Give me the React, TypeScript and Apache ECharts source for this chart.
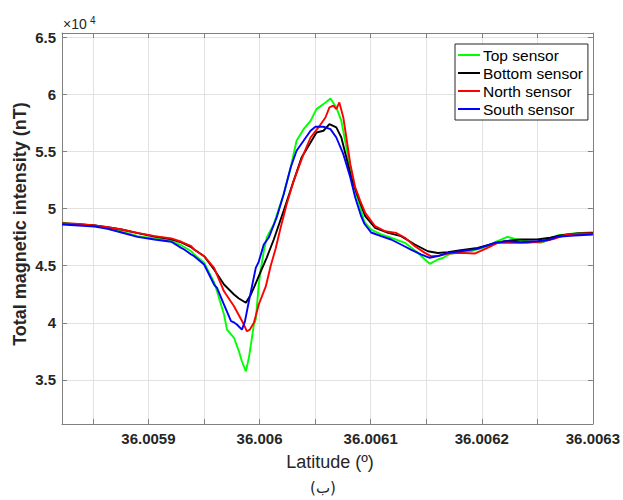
import React, { useEffect, useRef } from 'react';
import * as echarts from 'echarts';

const xTickValues = [36.00585, 36.0059, 36.00595, 36.006, 36.00605, 36.0061, 36.00615, 36.0062, 36.00625, 36.0063];
const xLabelValues = [36.0059, 36.006, 36.0061, 36.0062, 36.0063];
const yTickValues = [35000, 40000, 45000, 50000, 55000, 60000, 65000];

const seriesNames = ['Top sensor', 'Bottom sensor', 'North sensor', 'South sensor'];
const seriesColors = ['#00ff00', '#000000', '#ff0000', '#0000ff'];

const topLat = [36.0058222, 36.0058338, 36.0058517, 36.0058633, 36.0058758, 36.0058902, 36.0059054, 36.0059206, 36.0059295, 36.0059385, 36.0059412, 36.0059501, 36.0059591, 36.0059617, 36.005968, 36.0059707, 36.005977, 36.0059814, 36.0059841, 36.0059877, 36.0059904, 36.0059949, 36.0059966, 36.0059993, 36.0060011, 36.0060038, 36.0060065, 36.0060128, 36.0060217, 36.006028, 36.0060333, 36.0060396, 36.0060459, 36.0060512, 36.0060575, 36.0060638, 36.0060691, 36.0060736, 36.0060781, 36.0060825, 36.006087, 36.0060906, 36.0060942, 36.0061004, 36.0061094, 36.0061183, 36.0061309, 36.0061425, 36.0061488, 36.0061532, 36.0061604, 36.0061649, 36.006172, 36.0061899, 36.0062051, 36.0062141, 36.006223, 36.0062293, 36.0062409, 36.0062526, 36.0062615, 36.0062678, 36.006283, 36.0063];
const topVal = [48780, 48600, 48510, 48250, 47990, 47580, 47380, 47140, 46790, 46260, 45980, 45250, 43530, 42760, 40730, 39410, 38690, 37510, 36640, 35760, 36940, 39850, 40290, 43350, 44660, 46260, 47460, 48630, 51250, 53590, 55920, 56940, 57670, 58690, 59130, 59630, 58840, 57670, 55340, 53000, 51250, 50090, 48860, 48160, 47730, 47440, 47000, 46120, 45540, 45160, 45540, 45670, 46060, 46260, 46700, 47140, 47520, 47350, 47140, 47000, 47290, 47640, 47810, 47930];

const bottomLat = [36.0058222, 36.0058338, 36.0058517, 36.0058633, 36.0058758, 36.0058902, 36.0059054, 36.0059206, 36.0059295, 36.0059385, 36.0059412, 36.0059501, 36.0059591, 36.005968, 36.005977, 36.0059814, 36.0059877, 36.0059922, 36.0059957, 36.0060011, 36.0060065, 36.0060128, 36.0060217, 36.0060307, 36.0060378, 36.0060459, 36.0060512, 36.0060575, 36.0060629, 36.0060691, 36.0060736, 36.0060781, 36.0060825, 36.0060888, 36.0060951, 36.006104, 36.0061157, 36.0061273, 36.0061398, 36.0061515, 36.0061604, 36.0061694, 36.006181, 36.0061962, 36.0062078, 36.0062204, 36.0062347, 36.0062499, 36.0062615, 36.0062705, 36.0062857, 36.0063];
const bottomVal = [48690, 48640, 48510, 48360, 48160, 47840, 47550, 47310, 47030, 46610, 46410, 45830, 44660, 43350, 42480, 42130, 41750, 42480, 43260, 44490, 45710, 47290, 49800, 52420, 54460, 55780, 56650, 56800, 57380, 57090, 56210, 54460, 52710, 50960, 49330, 48310, 47870, 47580, 46850, 46260, 46110, 46180, 46350, 46560, 46850, 47140, 47290, 47290, 47440, 47640, 47810, 47870];

const northLat = [36.0058222, 36.0058338, 36.0058517, 36.0058633, 36.0058758, 36.0058902, 36.0059054, 36.0059206, 36.0059295, 36.0059385, 36.0059412, 36.0059501, 36.0059591, 36.005968, 36.005977, 36.0059859, 36.0059886, 36.0059913, 36.0059949, 36.0059993, 36.0060056, 36.0060101, 36.0060145, 36.006019, 36.0060244, 36.0060307, 36.0060396, 36.0060459, 36.006053, 36.0060593, 36.0060629, 36.0060664, 36.0060691, 36.0060718, 36.0060754, 36.0060781, 36.0060817, 36.0060861, 36.0060906, 36.0060951, 36.006104, 36.006113, 36.0061228, 36.0061309, 36.0061398, 36.0061488, 36.0061541, 36.0061604, 36.0061694, 36.006181, 36.0061935, 36.0062051, 36.0062141, 36.0062293, 36.0062409, 36.0062562, 36.0062651, 36.0062767, 36.0062919, 36.0063];
const northVal = [48690, 48660, 48510, 48360, 48160, 47870, 47580, 47380, 47090, 46700, 46410, 45830, 44810, 42760, 41450, 39850, 39260, 39410, 40000, 41600, 43180, 45010, 46500, 48340, 50380, 52420, 54750, 56210, 57090, 57960, 58840, 58990, 58700, 59280, 57960, 56210, 53880, 51840, 50670, 49620, 48450, 48010, 47870, 47440, 46700, 46120, 45830, 45840, 46060, 46120, 46060, 46560, 47000, 47000, 47000, 47140, 47350, 47730, 47810, 47810];

const southLat = [36.0058222, 36.0058338, 36.0058517, 36.0058633, 36.0058758, 36.0058902, 36.0059054, 36.0059206, 36.0059295, 36.0059322, 36.0059385, 36.0059412, 36.0059501, 36.0059591, 36.0059617, 36.005968, 36.0059743, 36.005977, 36.0059796, 36.0059841, 36.0059868, 36.0059904, 36.0059966, 36.0059993, 36.0060038, 36.0060083, 36.0060154, 36.0060217, 36.006028, 36.0060333, 36.0060396, 36.0060459, 36.0060503, 36.0060575, 36.0060638, 36.0060691, 36.0060754, 36.0060817, 36.0060861, 36.0060915, 36.0060942, 36.0061004, 36.0061094, 36.0061183, 36.0061273, 36.0061362, 36.0061452, 36.0061532, 36.0061604, 36.0061694, 36.006181, 36.0061962, 36.0062114, 36.006223, 36.0062347, 36.0062499, 36.0062615, 36.0062678, 36.006283, 36.0063];
const southVal = [48600, 48540, 48430, 48220, 47900, 47520, 47290, 47090, 46560, 46410, 45980, 45830, 45100, 43350, 43060, 41600, 40140, 40030, 39850, 39410, 40110, 41890, 44810, 45360, 46850, 47460, 49210, 51250, 53590, 55050, 55920, 56800, 57150, 57150, 56940, 56210, 54750, 52710, 50960, 49300, 48690, 47900, 47580, 47290, 46850, 46410, 45980, 45690, 45830, 46120, 46260, 46470, 47000, 47140, 47050, 47140, 47290, 47520, 47640, 47730];

const xMin = 36.0058222;
const xMax = 36.0063;
const yMin = 31150;
const yMax = 65350;

const FONT = '"Liberation Sans", Arial, Helvetica, sans-serif';
const AXIS_COLOR = '#808080';
const GRID_COLOR = '#e2e2e2';
const TEXT_COLOR = '#262626';

function zip(a: number[], b: number[]) {
  return a.map((v, i) => [v, b[i]]);
}

export default function App() {
  const ref = useRef<HTMLDivElement | null>(null);

  useEffect(() => {
    if (!ref.current) return;
    const chart = echarts.init(ref.current, undefined, { renderer: 'svg' });
    const lats = [topLat, bottomLat, northLat, southLat];
    const vals = [topVal, bottomVal, northVal, southVal];

    const axisCommon = {
      type: 'value' as const,
      axisLine: { show: true, onZero: false, lineStyle: { color: AXIS_COLOR, width: 1 } },
    };

    chart.setOption({
      animation: false,
      backgroundColor: '#ffffff',
      grid: { left: 62, right: 26, top: 33, bottom: 76, containLabel: false },
      legend: {
        show: true,
        orient: 'vertical',
        left: 455,
        top: 44,
        padding: [3, 5, 3, 3],
        itemWidth: 22,
        itemHeight: 2,
        itemGap: 2,
        icon: 'rect',
        backgroundColor: '#ffffff',
        borderColor: '#262626',
        borderWidth: 1,
        borderRadius: 0,
        textStyle: { fontFamily: FONT, fontSize: 15.5, color: '#000000', lineHeight: 16, padding: [0, 0, 0, -2] },
        data: seriesNames,
      },
      xAxis: [
        {
          ...axisCommon,
          position: 'bottom',
          min: xMin,
          max: xMax,
          axisTick: { show: true, inside: true, length: 5, customValues: xTickValues, lineStyle: { color: AXIS_COLOR } },
          axisLabel: {
            show: true,
            customValues: xLabelValues,
            formatter: (v: number) => String(Number(v.toFixed(5))),
            color: TEXT_COLOR,
            fontFamily: FONT,
            fontSize: 15,
            fontWeight: 'bold',
            margin: 7,
          },
          splitLine: { show: true, lineStyle: { color: GRID_COLOR, width: 1 } },
        },
        {
          ...axisCommon,
          position: 'top',
          min: xMin,
          max: xMax,
          axisTick: { show: true, inside: true, length: 5, customValues: xTickValues, lineStyle: { color: AXIS_COLOR } },
          axisLabel: { show: false },
          splitLine: { show: false },
        },
      ],
      yAxis: [
        {
          ...axisCommon,
          position: 'left',
          min: yMin,
          max: yMax,
          axisTick: { show: true, inside: true, length: 5, customValues: yTickValues, lineStyle: { color: AXIS_COLOR } },
          axisLabel: {
            show: true,
            customValues: yTickValues,
            formatter: (v: number) => String(Number((v / 10000).toFixed(2))),
            color: TEXT_COLOR,
            fontFamily: FONT,
            fontSize: 15,
            fontWeight: 'bold',
            margin: 6,
          },
          splitLine: { show: true, lineStyle: { color: GRID_COLOR, width: 1 } },
        },
        {
          ...axisCommon,
          position: 'right',
          min: yMin,
          max: yMax,
          axisTick: { show: true, inside: true, length: 5, customValues: yTickValues, lineStyle: { color: AXIS_COLOR } },
          axisLabel: { show: false },
          splitLine: { show: false },
        },
      ],
      series: seriesNames.map((name, i) => ({
        name,
        type: 'line',
        xAxisIndex: 0,
        yAxisIndex: 0,
        data: zip(lats[i], vals[i]),
        showSymbol: false,
        symbol: 'none',
        lineStyle: { color: seriesColors[i], width: 1.9 },
        itemStyle: { color: seriesColors[i] },
        emphasis: { disabled: true },
      })),
      graphic: [
        {
          type: 'text',
          x: 63,
          y: 31,
          style: { text: '×10', fontFamily: FONT, fontSize: 14, fill: TEXT_COLOR, textVerticalAlign: 'bottom' },
        },
        {
          type: 'text',
          x: 90,
          y: 25,
          style: { text: '4', fontFamily: FONT, fontSize: 10, fill: TEXT_COLOR, textVerticalAlign: 'bottom' },
        },
        {
          type: 'text',
          x: 20,
          y: 224,
          rotation: Math.PI / 2,
          style: {
            text: 'Total magnetic intensity (nT)',
            fontFamily: FONT,
            fontSize: 18,
            fontWeight: 'bold',
            fill: TEXT_COLOR,
            textAlign: 'center',
            textVerticalAlign: 'middle',
          },
        },
        {
          type: 'text',
          x: 330,
          y: 462,
          style: {
            text: 'Latitude (º)',
            fontFamily: FONT,
            fontSize: 18,
            fill: TEXT_COLOR,
            textAlign: 'center',
            textVerticalAlign: 'middle',
          },
        },
        {
          type: 'text',
          x: 323,
          y: 488,
          style: {
            text: '(ب)',
            fontFamily: '"DejaVu Sans", "Noto Sans", sans-serif',
            fontSize: 15,
            fill: TEXT_COLOR,
            textAlign: 'center',
            textVerticalAlign: 'middle',
          },
        },
      ],
    });

    return () => {
      chart.dispose();
    };
  }, []);

  return (
    <div
      ref={ref}
      style={{ position: 'fixed', left: 0, top: 0, width: 623, height: 500, background: '#ffffff' }}
    />
  );
}
